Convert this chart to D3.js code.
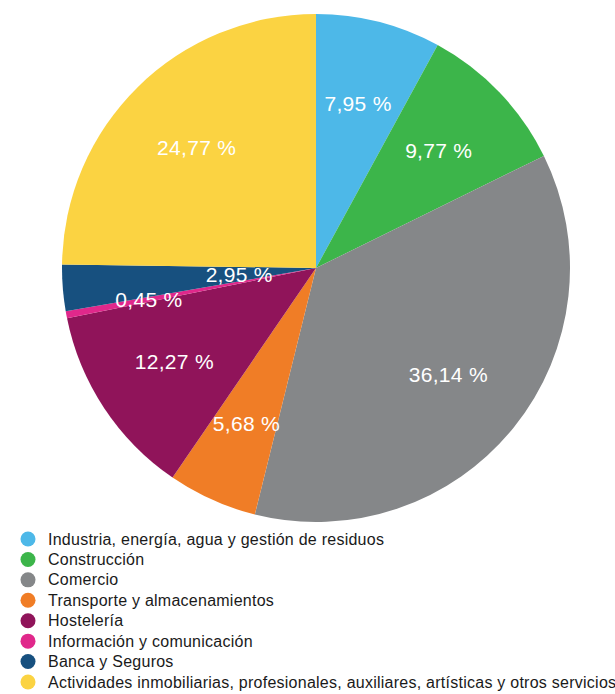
<!DOCTYPE html>
<html><head><meta charset="utf-8">
<script src="https://cdn.jsdelivr.net/npm/d3@7/dist/d3.min.js"></script>
<style>html,body{margin:0;padding:0;background:#fff;}svg{display:block;}</style>
</head><body>
<svg id="chart" width="615" height="694"></svg>
<script>
const categories = [
  "Industria, energía, agua y gestión de residuos",
  "Construcción",
  "Comercio",
  "Transporte y almacenamientos",
  "Hostelería",
  "Información y comunicación",
  "Banca y Seguros",
  "Actividades inmobiliarias, profesionales, auxiliares, artísticas y otros servicios"
];
const values = [7.95, 9.77, 36.14, 5.68, 12.27, 0.45, 2.95, 24.77];
const labels = ["7,95 %", "9,77 %", "36,14 %", "5,68 %", "12,27 %", "0,45 %", "2,95 %", "24,77 %"];
const colors = ["#4db8e8", "#3cb54a", "#858789", "#f07d26", "#90145a", "#e0288b", "#17507f", "#fbd342"];

const svg = d3.select("#chart");
const cx = 316, cy = 268, R = 254;
const font = "'Liberation Sans', Arial, Helvetica, sans-serif";

const pie = d3.pie().sort(null).value(d => d)(values);
const arc = d3.arc().innerRadius(0).outerRadius(R);
const g = svg.append("g").attr("transform", `translate(${cx},${cy})`);
g.selectAll("path").data(pie).join("path")
  .attr("d", arc)
  .attr("fill", (d, i) => colors[i]);

const labelArc = d3.arc().innerRadius(170).outerRadius(170);
const innerLabelArc = d3.arc().innerRadius(77).outerRadius(77);
g.selectAll("text.lbl").data(pie).join("text")
  .attr("class", "lbl")
  .attr("transform", (d, i) => {
    const c = (i === 6 ? innerLabelArc : labelArc).centroid(d);
    return `translate(${c[0]},${c[1]})`;
  })
  .attr("text-anchor", "middle")
  .attr("dy", "0.36em")
  .attr("fill", "#fff")
  .style("font-family", font)
  .style("font-size", "21px")
  .style("letter-spacing", "0.3px")
  .text((d, i) => labels[i]);

const legend = svg.append("g");
const y = d3.scalePoint().domain(categories).range([539, 682]);
const row = legend.selectAll("g").data(categories).join("g")
  .attr("transform", d => `translate(0,${y(d)})`);
row.append("circle").attr("cx", 28).attr("cy", 0).attr("r", 7.5)
  .attr("fill", (d, i) => colors[i]);
row.append("text").attr("x", 48).attr("dy", "0.35em")
  .attr("fill", "#1a1a1a")
  .style("font-family", font)
  .style("font-size", "16px")
  .style("letter-spacing", "0.25px")
  .text(d => d);
</script>
</body></html>
